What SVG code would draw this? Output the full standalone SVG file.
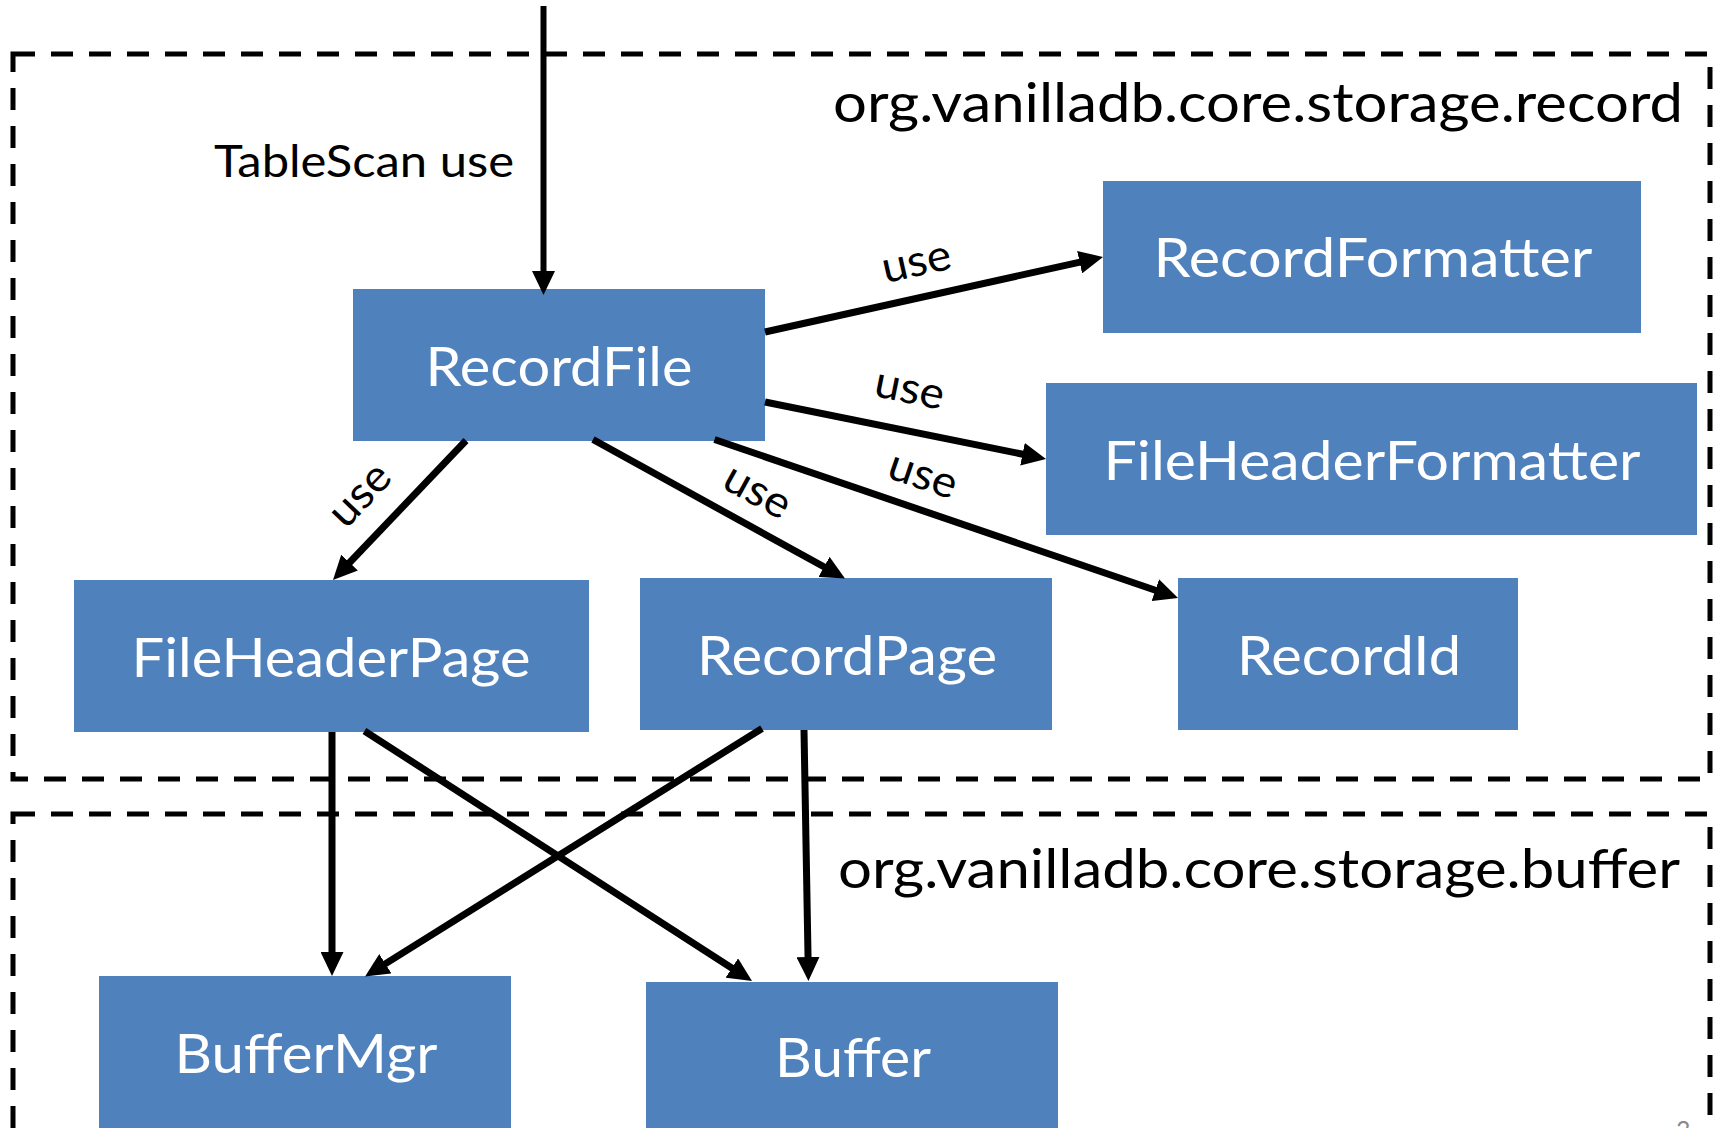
<svg xmlns="http://www.w3.org/2000/svg" width="1718" height="1128" viewBox="0 0 1718 1128">
  <defs>
    <marker id="arrow" markerUnits="userSpaceOnUse" markerWidth="24" markerHeight="23" viewBox="0 0 24 23" refX="4" refY="11.5" orient="auto">
      <path d="M0,0 L24,11.5 L0,23 z" fill="#000"/>
    </marker>
    <style>
      .pkg { fill: none; stroke: #000; stroke-width: 5; stroke-dasharray: 22 16; }
      .node rect { fill: #4F81BD; }
      .node text { fill: #fff; font-family: Lato, "Open Sans", "Liberation Sans", sans-serif; font-size: 55px; text-anchor: middle; }
      .label { fill: #000; font-family: Lato, "Open Sans", "Liberation Sans", sans-serif; }
      .pkglabel { font-size: 55px; }
      .use { font-size: 44px; text-anchor: middle; }
      .conn { stroke: #000; stroke-width: 7; fill: none; marker-end: url(#arrow); }
    </style>
  </defs>
  <rect width="1718" height="1128" fill="#fff"/>

  <g id="package-record">
    <rect class="pkg" x="13" y="54" width="1697" height="725"/>
    <text class="label pkglabel" x="833" y="122" textLength="850" lengthAdjust="spacingAndGlyphs">org.vanilladb.core.storage.record</text>
  </g>
  <g id="package-buffer">
    <rect class="pkg" x="13" y="814" width="1697" height="360"/>
    <text class="label pkglabel" x="838" y="888" textLength="842" lengthAdjust="spacingAndGlyphs">org.vanilladb.core.storage.buffer</text>
  </g>

  <g id="RecordFile" class="node">
    <rect x="353" y="289" width="412" height="152"/>
    <text x="559" y="386" textLength="267" lengthAdjust="spacingAndGlyphs">RecordFile</text>
  </g>
  <g id="RecordFormatter" class="node">
    <rect x="1103" y="181" width="538" height="152"/>
    <text x="1373" y="277" textLength="439" lengthAdjust="spacingAndGlyphs">RecordFormatter</text>
  </g>
  <g id="FileHeaderFormatter" class="node">
    <rect x="1046" y="383" width="651" height="152"/>
    <text x="1372" y="480" textLength="537" lengthAdjust="spacingAndGlyphs">FileHeaderFormatter</text>
  </g>
  <g id="FileHeaderPage" class="node">
    <rect x="74" y="580" width="515" height="152"/>
    <text x="331" y="677" textLength="399" lengthAdjust="spacingAndGlyphs">FileHeaderPage</text>
  </g>
  <g id="RecordPage" class="node">
    <rect x="640" y="578" width="412" height="152"/>
    <text x="847" y="675" textLength="300" lengthAdjust="spacingAndGlyphs">RecordPage</text>
  </g>
  <g id="RecordId" class="node">
    <rect x="1178" y="578" width="340" height="152"/>
    <text x="1349" y="675" textLength="224" lengthAdjust="spacingAndGlyphs">RecordId</text>
  </g>
  <g id="BufferMgr" class="node">
    <rect x="99" y="976" width="412" height="170"/>
    <text x="306" y="1073" textLength="263" lengthAdjust="spacingAndGlyphs">BufferMgr</text>
  </g>
  <g id="Buffer" class="node">
    <rect x="646" y="982" width="412" height="170"/>
    <text x="853" y="1077" textLength="156" lengthAdjust="spacingAndGlyphs">Buffer</text>
  </g>

  <g id="connectors">
    <line class="conn" style="stroke-width:6" x1="543.5" y1="6" x2="543.5" y2="275"/>
    <text class="label" x="214" y="177" font-size="45" textLength="300" lengthAdjust="spacingAndGlyphs">TableScan use</text>

    <line class="conn" x1="765" y1="332" x2="1083.5" y2="261.3"/>
    <text class="label use" transform="translate(917 265) rotate(-12.6)" x="0" y="11" textLength="70" lengthAdjust="spacingAndGlyphs">use</text>

    <line class="conn" x1="765" y1="402" x2="1026.4" y2="455"/>
    <text class="label use" transform="translate(909 392) rotate(11.5)" x="0" y="11" textLength="70" lengthAdjust="spacingAndGlyphs">use</text>

    <line class="conn" x1="714.5" y1="439.5" x2="1159.1" y2="591.5"/>
    <text class="label use" transform="translate(922 478) rotate(18.9)" x="0" y="11" textLength="70" lengthAdjust="spacingAndGlyphs">use</text>

    <line class="conn" x1="466" y1="440.5" x2="346.8" y2="565.5"/>
    <text class="label use" transform="translate(362 497) rotate(-46.4)" x="0" y="11" textLength="70" lengthAdjust="spacingAndGlyphs">use</text>

    <line class="conn" x1="593" y1="439.5" x2="827.5" y2="568.8"/>
    <text class="label use" transform="translate(756 494) rotate(28.9)" x="0" y="11" textLength="70" lengthAdjust="spacingAndGlyphs">use</text>

    <line class="conn" x1="332" y1="732" x2="332" y2="956"/>
    <line class="conn" x1="364.5" y1="731" x2="735.2" y2="970.2"/>
    <line class="conn" x1="762" y1="728.5" x2="382" y2="965.9"/>
    <line class="conn" x1="804" y1="730" x2="808.1" y2="961"/>
  </g>

  <text x="1676" y="1139" font-family="Lato, 'Liberation Sans', sans-serif" font-size="25" fill="#898989">3</text>
</svg>
